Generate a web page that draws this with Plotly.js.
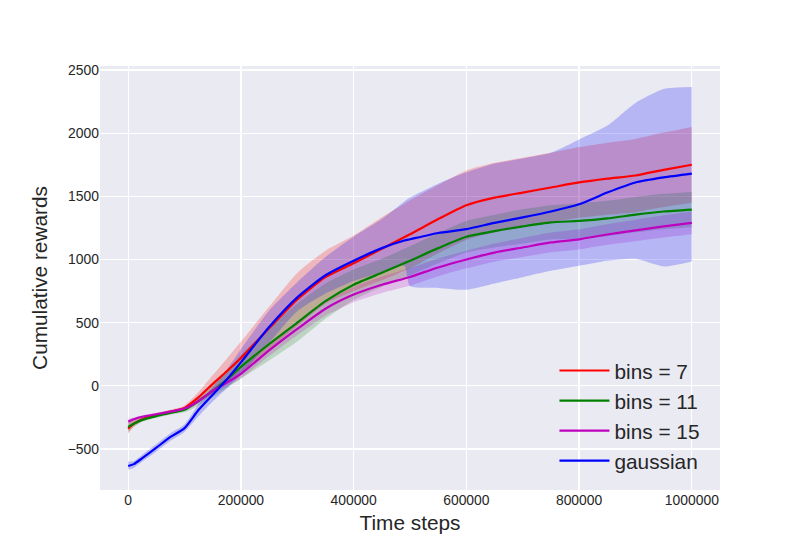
<!DOCTYPE html>
<html>
<head>
<meta charset="utf-8">
<script src="https://cdn.plot.ly/plotly-3.0.1.min.js"></script>
<style>
  html, body { margin: 0; padding: 0; background: #fff; }
  #chart { width: 800px; height: 550px; }
</style>
</head>
<body>
<div id="chart"></div>
<script>
// time steps shared by the three "bins" runs
const steps = [0, 10000, 25000, 50000, 75000, 100000, 125000, 150000, 175000, 200000,
  250000, 300000, 350000, 400000, 450000, 500000, 550000, 600000, 650000, 700000,
  750000, 800000, 850000, 900000, 950000, 1000000];

const bins7Mean = [-340, -300, -265, -230, -205, -175, -90, 15, 115, 220,
  455, 683, 860, 970, 1085, 1200, 1320, 1430, 1490, 1530,
  1570, 1610, 1640, 1665, 1710, 1750];
const bins7Spread = [40, 25, 15, 15, 15, 20, 40, 70, 100, 130,
  170, 210, 210, 220, 250, 270, 270, 275, 275, 275,
  275, 280, 285, 290, 295, 300];

const bins11Mean = [-325, -300, -270, -240, -215, -190, -120, -40, 50, 150,
  330, 500, 670, 800, 895, 990, 1090, 1180, 1225, 1262,
  1294, 1305, 1325, 1355, 1380, 1395];
const bins11Spread = [40, 25, 15, 15, 15, 20, 35, 50, 70, 95,
  130, 150, 140, 120, 110, 115, 120, 125, 130, 135,
  135, 140, 140, 140, 140, 140];

const bins15Mean = [-283, -265, -245, -225, -205, -180, -120, -40, 25, 95,
  280, 450, 610, 722, 800, 862, 937, 1000, 1055, 1095,
  1135, 1160, 1198, 1230, 1262, 1290];
const bins15Spread = [25, 15, 12, 12, 12, 15, 20, 25, 30, 35,
  45, 50, 55, 60, 65, 70, 70, 70, 72, 75,
  78, 80, 82, 85, 88, 90];

// gaussian run has an uneven band, so it keeps its own steps and bounds
const gaussSteps = [0, 10000, 25000, 50000, 75000, 100000, 125000, 150000, 175000, 200000,
  250000, 300000, 350000, 400000, 450000, 490000, 500000, 550000, 600000, 650000,
  700000, 750000, 800000, 850000, 900000, 950000, 1000000];
const gaussMean = [-635, -620, -573, -490, -405, -335, -190, -70, 50, 185,
  465, 700, 875, 990, 1090, 1150, 1160, 1210, 1240, 1290,
  1333, 1380, 1437, 1530, 1610, 1650, 1680];
const gaussUpper = [-600, -595, -545, -460, -375, -305, -145, -10, 130, 290,
  595, 820, 1020, 1180, 1320, 1460, 1490, 1600, 1690, 1760,
  1800, 1845, 1950, 2060, 2240, 2350, 2365];
const gaussLower = [-665, -650, -600, -520, -435, -365, -240, -125, -20, 90,
  340, 590, 730, 830, 900, 950, 790, 775, 760, 810,
  860, 910, 950, 990, 1005, 945, 985];

const xTicks = [0, 200000, 400000, 600000, 800000, 1000000];
const yTicks = [-500, 0, 500, 1000, 1500, 2000, 2500];

const runs = [
  { name: 'bins = 7', color: '#ff0000', band: 'rgba(255,0,0,0.22)', x: steps, y: bins7Mean,
    lo: bins7Mean.map((v, i) => v - bins7Spread[i]), hi: bins7Mean.map((v, i) => v + bins7Spread[i]) },
  { name: 'bins = 11', color: '#008000', band: 'rgba(0,128,0,0.2)', x: steps, y: bins11Mean,
    lo: bins11Mean.map((v, i) => v - bins11Spread[i]), hi: bins11Mean.map((v, i) => v + bins11Spread[i]) },
  { name: 'bins = 15', color: '#bf00bf', band: 'rgba(191,0,191,0.2)', x: steps, y: bins15Mean,
    lo: bins15Mean.map((v, i) => v - bins15Spread[i]), hi: bins15Mean.map((v, i) => v + bins15Spread[i]) },
  { name: 'gaussian', color: '#0000ff', band: 'rgba(0,0,255,0.22)', x: gaussSteps, y: gaussMean,
    lo: gaussLower, hi: gaussUpper }
];

const curve = { shape: 'spline', smoothing: 0.6 };

// bands first (lower edge, then upper edge filled down to it), lines on top
const bands = [];
runs.forEach(r => {
  bands.push({
    x: r.x, y: r.lo, mode: 'lines',
    line: Object.assign({ width: 0 }, curve),
    hoverinfo: 'skip', showlegend: false
  });
  bands.push({
    x: r.x, y: r.hi, mode: 'lines', fill: 'tonexty', fillcolor: r.band,
    line: Object.assign({ width: 0 }, curve),
    hoverinfo: 'skip', showlegend: false
  });
});
const lines = runs.map(r => ({
  x: r.x, y: r.y, name: r.name, mode: 'lines',
  line: Object.assign({ color: r.color, width: 2.2 }, curve)
}));

const font = { family: 'Liberation Sans, Arial, sans-serif', color: '#262626' };

const layout = {
  width: 800, height: 550,
  margin: { l: 100, r: 80, t: 66, b: 60 },
  paper_bgcolor: '#ffffff',
  plot_bgcolor: '#eaeaf2',
  font: font,
  xaxis: {
    range: [-50000, 1050000],
    tickvals: xTicks, ticktext: xTicks.map(String),
    showgrid: true, gridcolor: '#ffffff', gridwidth: 1.3,
    zeroline: false, showline: false, ticks: '',
    tickfont: { size: 13.9, family: font.family, color: '#262626' },
    title: { text: 'Time steps', font: { size: 20.8, family: font.family, color: '#262626' }, standoff: 8 }
  },
  yaxis: {
    range: [-825, 2532],
    tickvals: yTicks,
    showgrid: true, gridcolor: '#ffffff', gridwidth: 1.3,
    zeroline: false, showline: false, ticks: '',
    tickfont: { size: 13.9, family: font.family, color: '#262626' },
    title: { text: 'Cumulative rewards', font: { size: 20.8, family: font.family, color: '#262626' }, standoff: 14 }
  },
  legend: {
    x: 0.733, y: 0.329, xanchor: 'left', yanchor: 'top',
    traceorder: 'normal',
    bgcolor: 'rgba(0,0,0,0)',
    font: { size: 20.8, family: font.family, color: '#262626' },
    itemwidth: 50,
    tracegroupgap: 0
  },
  showlegend: true
};

Plotly.newPlot('chart', bands.concat(lines), layout, { staticPlot: true });
</script>
</body>
</html>
